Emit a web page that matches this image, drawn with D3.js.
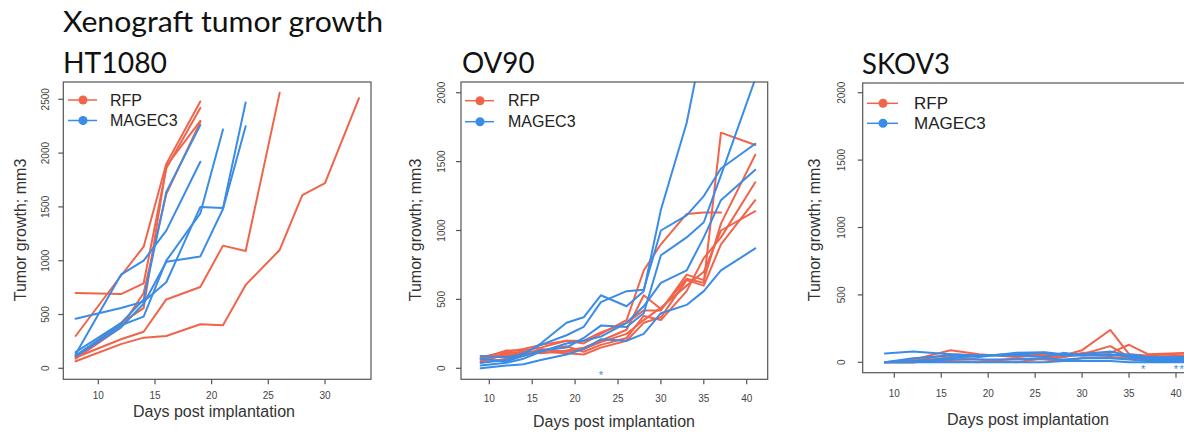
<!DOCTYPE html>
<html><head><meta charset="utf-8">
<script src="https://cdn.jsdelivr.net/npm/d3@7/dist/d3.min.js"></script>
<style>body{margin:0;background:#fff}svg{display:block}</style>
</head><body><svg id="c" width="1184" height="433"></svg>
<script>
// ---------------- DATA ----------------
const seriesNames = ["RFP", "MAGEC3"];
const xTickValues = [10, 15, 20, 25, 30, 35, 40];
const ht1080YTicks = [0, 500, 1000, 1500, 2000, 2500];
const ovYTicks = [0, 500, 1000, 1500, 2000];

// HT1080
const ht1080Days = [8, 12, 14, 16, 19, 21, 23, 26, 28, 30, 33];
const ht1080RFP = [
  [300, 860, 1130, 1900, 2480],
  [700, 690, 790, 1860, 2420],
  [110, 420, 560, 1880, 2300],
  [90, 380, 700, 1620, 2290],
  [100, 270, 340, 640, 755, 1140, 1090, 2560],
  [65, 225, 285, 300, 410, 400, 775, 1100, 1610, 1720, 2510]
];
const ht1080MAGEC3 = [
  [460, 560, 620, 800, 1500, 1490, 2470],
  [130, 870, 1000, 1280, 1920],
  [150, 420, 640, 1640, 2260],
  [110, 380, 600, 990, 1040, 1480, 2250],
  [120, 400, 480, 1000, 1440, 2220]
];

// OV90
const ov90Days = [9, 12, 14, 16, 19, 21, 23, 26, 28, 30, 33, 35, 37, 41];
const ov90RFP = [
  [70, 130, 130, 150, 200, 180, 250, 350, 710, 900, 1120, 1130, 1130],
  [60, 110, 120, 110, 130, 150, 200, 280, 530, 430, 650, 620, 1710, 1620],
  [80, 120, 140, 170, 200, 200, 260, 330, 420, 420, 680, 640, 1050, 1550],
  [50, 100, 110, 130, 160, 120, 170, 220, 380, 350, 560, 800, 950, 1350],
  [40, 70, 90, 120, 110, 100, 150, 200, 330, 370, 640, 600, 900, 1220],
  [70, 90, 100, 140, 120, 140, 190, 250, 350, 440, 600, 700, 1000, 1140]
];
const ov90MAGEC3 = [
  [90, 80, 100, 180, 330, 370, 530, 450, 560, 1150, 1780, 2400],
  [40, 60, 110, 170, 240, 300, 480, 560, 570, 1000, 1110, 1250, 1450, 1630],
  [70, 50, 90, 130, 150, 220, 310, 300, 400, 820, 950, 1060, 1400, 2100],
  [20, 40, 70, 120, 180, 200, 230, 330, 450, 620, 710, 950, 1220, 1440],
  [0, 20, 30, 60, 100, 140, 210, 200, 250, 400, 460, 560, 710, 870]
];
const ov90Stars = [23];

// SKOV3
const skov3Days = [9, 12, 16, 19, 23, 26, 28, 30, 33, 35, 37, 41];
const skov3RFP = [
  [0, 20, 90, 60, 40, 60, 50, 90, 240, 60, 50, 65],
  [0, 10, 60, 50, 60, 50, 40, 60, 120, 40, 40, 50],
  [0, 0, 40, 20, 0, 30, 40, 70, 70, 130, 60, 70],
  [0, 0, 10, 0, 30, 20, 10, 30, 40, 30, 20, 30]
];
const skov3MAGEC3 = [
  [65, 80, 60, 50, 60, 70, 50, 50, 60, 40, 20, 20],
  [0, 30, 50, 40, 70, 75, 60, 60, 80, 50, 30, 30],
  [0, 10, 30, 50, 50, 40, 70, 50, 50, 60, 40, 40],
  [0, 0, 20, 20, 20, 30, 20, 30, 30, 20, 10, 10],
  [0, 0, 0, 0, 0, 0, 10, 10, 10, 0, 0, 0]
];
const skov3Stars = [36.5, 40, 40.6];
const starValue = -48;

// ---------------- LAYOUT ----------------
const RED = "#f0644b", BLUE = "#3a8ce6";
const svg = d3.select("#c");

svg.append("text").attr("x", 63).attr("y", 32)
  .attr("font-family", "Lato, 'Open Sans', sans-serif").attr("font-size", 29)
  .attr("fill", "#111").attr("textLength", 320).attr("lengthAdjust", "spacingAndGlyphs")
  .text("Xenograft tumor growth");

const panels = [
  { name: "HT1080", nameX: 63, nameY: 73, nameW: 104,
    days: ht1080Days, red: ht1080RFP, blue: ht1080MAGEC3, stars: [],
    xDom: [10, 30], xRange: [98.3, 325], yDom: [0, 2500], yRange: [368.3, 99.3],
    xTicks: xTickValues.filter(t => t <= 30), yTicks: ht1080YTicks,
    frame: { l: 63.3, r: 371, t: 82, b: 379.3 },
    xLabY: 395, yLabX: 45, xTitle: [214, 417], yTitle: [20.5, 230],
    leg: { x1: 68, x2: 97, dot: 83, tx: 110, y1: 100, y2: 120.5, fs: 16 } },
  { name: "OV90", nameX: 462, nameY: 73, nameW: 72.5,
    days: ov90Days, red: ov90RFP, blue: ov90MAGEC3, stars: ov90Stars,
    xDom: [10, 40], xRange: [489.3, 746.7], yDom: [0, 2000], yRange: [368.3, 92.7],
    xTicks: xTickValues, yTicks: ovYTicks,
    frame: { l: 461, r: 767.7, t: 82, b: 379.3 },
    xLabY: 398, yLabX: 441.7, xTitle: [614, 427], yTitle: [415.5, 230],
    leg: { x1: 465, x2: 494, dot: 480, tx: 508, y1: 100.7, y2: 121.7, fs: 16 } },
  { name: "SKOV3", nameX: 862, nameY: 74, nameW: 88,
    days: skov3Days, red: skov3RFP, blue: skov3MAGEC3, stars: skov3Stars,
    xDom: [10, 40], xRange: [894.3, 1176], yDom: [0, 2000], yRange: [362.3, 92.7],
    xTicks: xTickValues, yTicks: ovYTicks,
    frame: { l: 862.7, r: 1199, t: 83, b: 372.7 },
    xLabY: 393, yLabX: 841.7, xTitle: [1028, 425], yTitle: [814.5, 230],
    leg: { x1: 867, x2: 898, dot: 883, tx: 914, y1: 103.3, y2: 123.3, fs: 17 } }
];

panels.forEach((p, pi) => {
  const x = d3.scaleLinear().domain(p.xDom).range(p.xRange);
  const y = d3.scaleLinear().domain(p.yDom).range(p.yRange);
  const f = p.frame;

  svg.append("text").attr("x", p.nameX).attr("y", p.nameY)
    .attr("font-family", "Lato, 'Open Sans', sans-serif").attr("font-size", 29)
    .attr("fill", "#111").attr("textLength", p.nameW).attr("lengthAdjust", "spacingAndGlyphs")
    .text(p.name);

  const cid = "clip" + pi;
  svg.append("clipPath").attr("id", cid).append("rect")
    .attr("x", f.l).attr("y", f.t).attr("width", f.r - f.l).attr("height", f.b - f.t);
  const g = svg.append("g").attr("clip-path", `url(#${cid})`);

  const line = d3.line().defined(d => d[1] != null).x(d => x(d[0])).y(d => y(d[1]));
  const draw = (lines, col) => lines.forEach(vals => {
    g.append("path").datum(p.days.map((d, i) => [d, vals[i] === undefined ? null : vals[i]]))
      .attr("d", line).attr("fill", "none").attr("stroke", col)
      .attr("stroke-width", 2).attr("stroke-linejoin", "round").attr("stroke-linecap", "round");
  });
  draw(p.red, RED);
  draw(p.blue, BLUE);

  p.stars.forEach(s => {
    g.append("text").attr("x", x(s)).attr("y", y(starValue)).attr("text-anchor", "middle")
      .attr("dominant-baseline", "central").attr("font-family", "Liberation Sans, Arial, sans-serif")
      .attr("font-size", 11).attr("fill", BLUE).text("*");
  });

  // box
  svg.append("rect").attr("x", f.l).attr("y", f.t).attr("width", f.r - f.l).attr("height", f.b - f.t)
    .attr("fill", "none").attr("stroke", "#555").attr("stroke-width", 1.2);

  // x axis
  const xa = svg.append("g");
  p.xTicks.forEach(t => {
    xa.append("line").attr("x1", x(t)).attr("x2", x(t)).attr("y1", f.b).attr("y2", f.b + 5)
      .attr("stroke", "#555").attr("stroke-width", 1.2);
    xa.append("text").attr("x", x(t)).attr("y", p.xLabY).attr("text-anchor", "middle")
      .attr("dominant-baseline", "central").attr("font-family", "Liberation Sans, Arial, sans-serif")
      .attr("font-size", 10).attr("fill", "#444").text(t);
  });
  // y axis
  p.yTicks.forEach(t => {
    xa.append("line").attr("x1", f.l - 5).attr("x2", f.l).attr("y1", y(t)).attr("y2", y(t))
      .attr("stroke", "#555").attr("stroke-width", 1.2);
    xa.append("text").attr("transform", `translate(${p.yLabX},${y(t)}) rotate(-90)`)
      .attr("text-anchor", "middle").attr("dominant-baseline", "central")
      .attr("font-family", "Liberation Sans, Arial, sans-serif")
      .attr("font-size", 10).attr("fill", "#444").text(t);
  });

  svg.append("text").attr("x", p.xTitle[0]).attr("y", p.xTitle[1]).attr("text-anchor", "middle")
    .attr("font-family", "Liberation Sans, Arial, sans-serif").attr("font-size", 16).attr("fill", "#333")
    .text("Days post implantation");
  svg.append("text").attr("transform", `translate(${p.yTitle[0]},${p.yTitle[1]}) rotate(-90)`)
    .attr("text-anchor", "middle").attr("dominant-baseline", "central")
    .attr("font-family", "Liberation Sans, Arial, sans-serif").attr("font-size", 16).attr("fill", "#333")
    .text("Tumor growth; mm3");

  // legend
  const L = p.leg;
  [[seriesNames[0], RED, L.y1], [seriesNames[1], BLUE, L.y2]].forEach(([nm, col, ly]) => {
    svg.append("line").attr("x1", L.x1).attr("x2", L.x2).attr("y1", ly).attr("y2", ly)
      .attr("stroke", col).attr("stroke-width", 1.5);
    svg.append("circle").attr("cx", L.dot).attr("cy", ly).attr("r", 4.5).attr("fill", col);
    svg.append("text").attr("x", L.tx).attr("y", ly).attr("dominant-baseline", "central")
      .attr("font-family", "Liberation Sans, Arial, sans-serif").attr("font-size", L.fs)
      .attr("fill", "#222").text(nm);
  });
});
</script></body></html>
